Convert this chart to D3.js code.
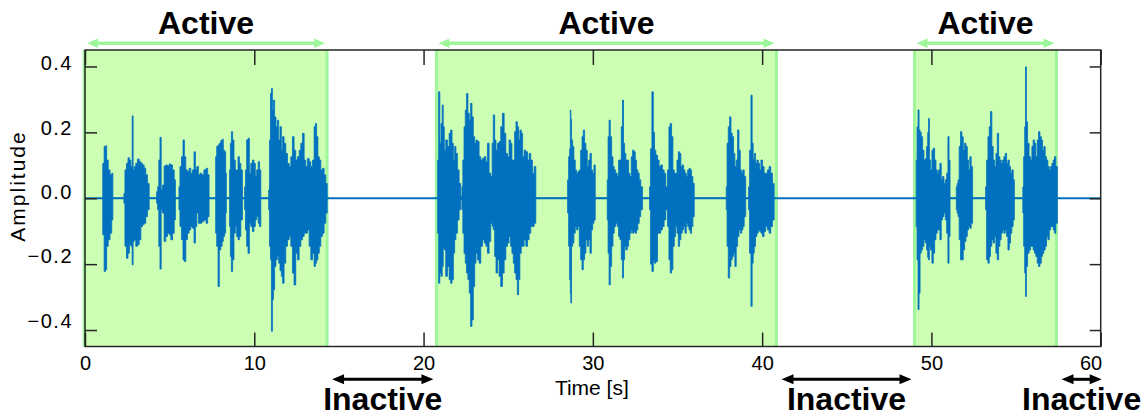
<!DOCTYPE html>
<html>
<head>
<meta charset="utf-8">
<script src="https://cdn.jsdelivr.net/npm/d3@7"></script>
<style>
body { margin: 0; background: #fff; }
svg { display: block; font-family: "Liberation Sans", Arial, sans-serif; }
</style>
</head>
<body>
<script>
//axis ticks
var xTicks = [0, 10, 20, 30, 40, 50, 60];
var yTicks = [-0.4, -0.2, 0.0, 0.2, 0.4];

//active / inactive segments in seconds
var activeStart = [-0.05, 20.76, 49.0];
var activeEnd = [14.3, 40.85, 57.39];
var inactiveStart = [14.3, 40.85, 57.39];
var inactiveEnd = [20.76, 49.0, 60];

//waveform envelope: [time, upper, lower]
var waveA = [
	[1.02,0,0],[1.08,0.106,-0.111],[1.18,0.157,-0.222],[1.24,0.159,-0.217],[1.32,0.116,-0.146],[1.42,0.086,-0.126],[1.54,0.071,-0.106],[1.62,0.076,-0.066],[1.67,0,0],
	[2.28,0,0],[2.32,0.015,-0.015],[2.40,0.086,-0.146],[2.50,0.106,-0.182],[2.58,0.123,-0.167],[2.66,0.116,-0.141],[2.76,0.096,-0.146],[2.815,0.250,-0.202],[2.87,0.086,-0.131],[2.95,0.096,-0.126],[3.05,0.106,-0.146],[3.15,0.119,-0.141],[3.25,0.111,-0.126],[3.35,0.106,-0.086],[3.45,0.101,-0.080],[3.54,0.091,-0.076],[3.64,0.071,-0.056],[3.74,0.045,-0.035],[3.84,0,0],
	[4.21,0,0],[4.25,0.020,-0.015],[4.33,0.035,-0.035],[4.39,0.116,-0.146],[4.47,0.185,-0.215],[4.53,0.025,-0.035],[4.63,0.040,-0.045],[4.72,0.098,-0.131],[4.82,0.101,-0.116],[4.92,0.098,-0.106],[5.02,0.104,-0.111],[5.12,0.101,-0.126],[5.22,0.086,-0.106],[5.32,0.056,-0.066],[5.36,0,0],
	[5.53,0,0],[5.57,0.035,-0.035],[5.65,0.096,-0.086],[5.75,0.126,-0.126],[5.83,0.177,-0.187],[5.91,0.126,-0.192],[6.00,0.086,-0.126],[6.10,0.081,-0.106],[6.20,0.091,-0.096],[6.30,0.076,-0.086],[6.40,0.086,-0.091],[6.48,0.141,-0.136],[6.56,0.086,-0.086],[6.65,0.096,-0.045],[6.75,0.071,-0.076],[6.85,0.076,-0.076],[6.95,0.071,-0.071],[7.09,0.086,-0.066],[7.21,0.091,-0.076],[7.28,0.071,-0.056],[7.38,0,0],
	[7.70,0,0],[7.74,0.126,-0.106],[7.82,0.157,-0.146],[7.90,0.162,-0.268],[7.97,0.167,-0.157],[8.07,0.175,-0.146],[8.13,0.179,-0.131],[8.21,0.146,-0.116],[8.29,0.141,-0.106],[8.33,0.076,-0.045],[8.37,0,0],
	[8.52,0,0],[8.56,0.086,-0.086],[8.62,0.167,-0.177],[8.68,0.202,-0.222],[8.76,0.177,-0.187],[8.84,0.116,-0.106],[8.92,0.086,-0.086],[9.00,0.086,-0.116],[9.08,0.126,-0.126],[9.16,0.106,-0.116],[9.25,0.086,-0.066],[9.35,0,0],
	[9.41,0,0],[9.45,0.035,-0.035],[9.51,0.086,-0.096],[9.59,0.177,-0.146],[9.67,0.182,-0.167],[9.75,0.076,-0.076],[9.84,0.106,-0.086],[9.94,0.116,-0.101],[10.02,0.106,-0.086],[10.10,0.066,-0.066],[10.18,0.086,-0.056],[10.28,0.111,-0.076],[10.34,0.086,-0.086],[10.43,0,0],
	[10.83,0,0],[10.87,0.025,-0.035],[10.93,0.177,-0.146],[10.99,0.318,-0.187],[11.04,0.333,-0.404],[11.10,0.268,-0.308],[11.16,0.298,-0.278],[11.24,0.247,-0.207],[11.32,0.217,-0.187],[11.40,0.237,-0.177],[11.48,0.177,-0.197],[11.56,0.217,-0.220],[11.64,0.146,-0.237],[11.71,0.187,-0.258],[11.81,0.167,-0.197],[11.91,0.136,-0.146],[12.01,0.106,-0.126],[12.11,0.096,-0.116],[12.21,0.126,-0.146],[12.30,0.187,-0.227],[12.40,0.146,-0.263],[12.50,0.116,-0.167],[12.60,0.126,-0.187],[12.70,0.146,-0.146],[12.80,0.167,-0.126],[12.90,0.197,-0.116],[12.99,0.116,-0.106],[13.09,0.096,-0.106],[13.19,0.121,-0.096],[13.29,0.111,-0.146],[13.39,0.096,-0.187],[13.49,0.116,-0.167],[13.58,0.217,-0.207],[13.64,0.227,-0.197],[13.72,0.187,-0.187],[13.80,0.126,-0.167],[13.88,0.116,-0.146],[13.98,0.086,-0.116],[14.08,0.091,-0.106],[14.17,0.071,-0.076],[14.27,0.045,-0.045],[14.35,0,0]
];
var waveB = [
	[20.81,0,0],[20.85,0.116,-0.106],[20.93,0.323,-0.258],[20.99,0.167,-0.227],[21.07,0.227,-0.237],[21.13,0.283,-0.207],[21.19,0.217,-0.150],[21.26,0.146,-0.157],[21.36,0.177,-0.237],[21.46,0.157,-0.207],[21.56,0.197,-0.247],[21.64,0.207,-0.258],[21.72,0.167,-0.247],[21.80,0.116,-0.167],[21.87,0.157,-0.126],[21.95,0.136,-0.106],[22.05,0.086,-0.066],[22.15,0.045,-0.035],[22.25,0.005,-0.005],
	[22.29,0.035,-0.035],[22.35,0.116,-0.106],[22.43,0.217,-0.167],[22.50,0.268,-0.197],[22.58,0.318,-0.227],[22.66,0.258,-0.247],[22.74,0.237,-0.288],[22.82,0.288,-0.389],[22.90,0.247,-0.369],[22.98,0.187,-0.268],[23.06,0.167,-0.197],[23.13,0.177,-0.167],[23.23,0.172,-0.187],[23.33,0.126,-0.197],[23.43,0.116,-0.146],[23.53,0.121,-0.126],[23.63,0.126,-0.136],[23.73,0.111,-0.146],[23.82,0.167,-0.167],[23.92,0.076,-0.131],[24.02,0.066,-0.076],[24.08,0.167,-0.085],[24.16,0.253,-0.096],[24.24,0.177,-0.177],[24.32,0.146,-0.227],[24.41,0.167,-0.187],[24.51,0.172,-0.237],[24.61,0.217,-0.268],[24.71,0.258,-0.227],[24.81,0.197,-0.187],[24.91,0.136,-0.146],[25.00,0.126,-0.136],[25.10,0.177,-0.116],[25.18,0.167,-0.146],[25.26,0.116,-0.167],[25.34,0.116,-0.197],[25.42,0.202,-0.227],[25.50,0.232,-0.247],[25.58,0.217,-0.293],[25.65,0.177,-0.247],[25.73,0.207,-0.167],[25.81,0.197,-0.146],[25.89,0.126,-0.146],[25.99,0.146,-0.126],[26.09,0.141,-0.146],[26.19,0.116,-0.126],[26.28,0.136,-0.106],[26.38,0.116,-0.086],[26.48,0.076,-0.086],[26.58,0.096,-0.076],[26.68,0,0],
	[28.49,0,0],[28.53,0.056,-0.045],[28.61,0.126,-0.146],[28.65,0.150,-0.247],[28.69,0.268,-0.290],[28.71,0.240,-0.318],[28.77,0.177,-0.146],[28.84,0.157,-0.136],[28.92,0.116,-0.106],[29.00,0.086,-0.086],[29.08,0.076,-0.096],[29.16,0.081,-0.086],[29.24,0.086,-0.146],[29.32,0.146,-0.187],[29.40,0.187,-0.217],[29.47,0.207,-0.187],[29.55,0.167,-0.167],[29.63,0.146,-0.126],[29.71,0.096,-0.146],[29.79,0.116,-0.126],[29.87,0.136,-0.167],[29.95,0.086,-0.096],[30.03,0.076,-0.076],[30.10,0.101,-0.066],[30.18,0,0],
	[30.83,0,0],[30.87,0.056,-0.066],[30.93,0.187,-0.167],[30.99,0.237,-0.263],[31.07,0.187,-0.207],[31.15,0.126,-0.146],[31.23,0.096,-0.106],[31.30,0.086,-0.086],[31.40,0.076,-0.076],[31.48,0.066,-0.086],[31.56,0.116,-0.116],[31.64,0.116,-0.126],[31.72,0.217,-0.187],[31.78,0.298,-0.242],[31.84,0.167,-0.187],[31.91,0.136,-0.146],[31.99,0.116,-0.157],[32.07,0.116,-0.146],[32.15,0.076,-0.126],[32.23,0.066,-0.106],[32.31,0.126,-0.096],[32.39,0.146,-0.106],[32.47,0.141,-0.101],[32.54,0.116,-0.106],[32.62,0.086,-0.096],[32.70,0.076,-0.076],[32.78,0.056,-0.056],[32.88,0.035,-0.035],[32.98,0,0],
	[33.33,0,0],[33.37,0.035,-0.035],[33.45,0.150,-0.200],[33.53,0.323,-0.222],[33.61,0.200,-0.190],[33.67,0.146,-0.197],[33.77,0.131,-0.192],[33.87,0.116,-0.106],[33.96,0.096,-0.106],[34.06,0.101,-0.096],[34.16,0.086,-0.086],[34.26,0.076,-0.066],[34.36,0.035,-0.035],[34.46,0.086,-0.086],[34.53,0.217,-0.187],[34.61,0.227,-0.227],[34.69,0.187,-0.217],[34.77,0.086,-0.146],[34.85,0.076,-0.116],[34.93,0.076,-0.086],[35.01,0.116,-0.106],[35.09,0.141,-0.146],[35.16,0.136,-0.126],[35.24,0.096,-0.106],[35.32,0.101,-0.096],[35.40,0.086,-0.086],[35.48,0.076,-0.106],[35.56,0.066,-0.076],[35.64,0.086,-0.086],[35.72,0.091,-0.096],[35.79,0.086,-0.106],[35.87,0.066,-0.086],[35.95,0.045,-0.056],[36.03,0,0],
	[37.86,0,0],[37.90,0.035,-0.035],[37.96,0.167,-0.146],[38.04,0.217,-0.242],[38.12,0.247,-0.207],[38.20,0.197,-0.187],[38.27,0.187,-0.177],[38.35,0.136,-0.167],[38.43,0.096,-0.207],[38.51,0.116,-0.146],[38.59,0.207,-0.116],[38.67,0.146,-0.096],[38.75,0.086,-0.106],[38.83,0.076,-0.096],[38.90,0.086,-0.086],[38.98,0.066,-0.056],[39.08,0,0],
	[39.18,0,0],[39.22,0.035,-0.035],[39.30,0.146,-0.167],[39.38,0.313,-0.328],[39.44,0.167,-0.197],[39.50,0.116,-0.167],[39.57,0.136,-0.146],[39.65,0.106,-0.116],[39.73,0.116,-0.106],[39.81,0.106,-0.096],[39.89,0.086,-0.101],[39.97,0.116,-0.106],[40.07,0.096,-0.116],[40.16,0.076,-0.101],[40.26,0.076,-0.086],[40.36,0.086,-0.096],[40.46,0.096,-0.106],[40.56,0.076,-0.086],[40.66,0.045,-0.066],[40.76,0,0]
];
var waveC = [
	[49.08,0,0],[49.12,0.116,-0.086],[49.18,0.217,-0.187],[49.24,0.268,-0.338],[49.30,0.207,-0.288],[49.36,0.200,-0.167],[49.44,0.187,-0.157],[49.52,0.146,-0.146],[49.60,0.116,-0.126],[49.68,0.120,-0.136],[49.75,0.157,-0.157],[49.81,0.200,-0.180],[49.85,0.242,-0.187],[49.91,0.116,-0.146],[49.99,0.086,-0.157],[50.07,0.146,-0.197],[50.15,0.152,-0.167],[50.23,0.116,-0.126],[50.31,0.086,-0.106],[50.38,0.076,-0.096],[50.46,0.086,-0.096],[50.54,0.106,-0.126],[50.62,0.056,-0.066],[50.70,0.066,-0.056],[50.78,0.045,-0.045],[50.86,0.056,-0.066],[50.94,0.076,-0.106],[51.01,0.187,-0.197],[51.07,0.116,-0.116],[51.13,0,0],
	[51.45,0,0],[51.49,0.035,-0.035],[51.55,0.045,-0.045],[51.60,0.056,-0.056],[51.68,0.157,-0.126],[51.76,0.202,-0.187],[51.84,0.187,-0.187],[51.92,0.146,-0.157],[52.00,0.167,-0.131],[52.08,0.157,-0.116],[52.16,0.116,-0.096],[52.23,0.086,-0.086],[52.31,0.126,-0.091],[52.39,0.096,-0.076],[52.47,0,0],
	[53.18,0,0],[53.22,0.035,-0.035],[53.30,0.116,-0.187],[53.38,0.187,-0.197],[53.45,0.217,-0.177],[53.53,0.263,-0.146],[53.61,0.157,-0.126],[53.69,0.116,-0.136],[53.77,0.096,-0.116],[53.85,0.136,-0.167],[53.93,0.197,-0.187],[54.01,0.126,-0.146],[54.08,0.116,-0.126],[54.16,0.106,-0.106],[54.24,0.116,-0.096],[54.32,0.126,-0.106],[54.40,0.136,-0.096],[54.48,0.106,-0.116],[54.56,0.116,-0.157],[54.64,0.096,-0.136],[54.71,0.076,-0.106],[54.79,0.086,-0.086],[54.87,0.056,-0.066],[54.93,0,0],
	[55.38,0,0],[55.42,0.035,-0.045],[55.48,0.126,-0.146],[55.54,0.217,-0.227],[55.58,0.399,-0.298],[55.64,0.232,-0.207],[55.72,0.167,-0.167],[55.82,0.126,-0.157],[55.90,0.116,-0.146],[55.97,0.157,-0.146],[56.05,0.177,-0.157],[56.13,0.167,-0.167],[56.21,0.126,-0.177],[56.29,0.177,-0.197],[56.37,0.202,-0.207],[56.45,0.187,-0.197],[56.53,0.177,-0.177],[56.60,0.146,-0.167],[56.68,0.157,-0.157],[56.76,0.126,-0.146],[56.84,0.116,-0.116],[56.92,0.096,-0.126],[57.00,0.086,-0.096],[57.08,0.096,-0.086],[57.16,0.106,-0.086],[57.23,0.116,-0.096],[57.31,0.126,-0.106],[57.39,0.096,-0.076],[57.49,0,0]
];

window.onload = drawChart();

function drawChart(){

	var width = 1148,
		height = 419;

	var blue = "#0070bf",
		green = "#ccffb4",
		greenLine = "#9ef59a",
		frameColor = "#262626";

	var svg = d3.select("body")
		.append("svg")
		.attr("width", width)
		.attr("height", height);

	//scales
	var x = d3.scaleLinear()
		.domain([0, 60])
		.range([85, 1100.7]);
	var y = d3.scaleLinear()
		.domain([-0.45, 0.45])
		.range([346.5, 50]);

	//green shading for active parts
	svg.selectAll(".active")
		.data(activeStart)
		.enter()
		.append("rect")
		.attr("class", "active")
		.attr("x", function(d){ return x(d); })
		.attr("width", function(d, i){ return x(activeEnd[i]) - x(d); })
		.attr("y", y(0.45))
		.attr("height", y(-0.45) - y(0.45))
		.attr("fill", green);

	//bright edges of the shading
	var edges = activeStart.concat(activeEnd);
	svg.selectAll(".edge")
		.data(edges)
		.enter()
		.append("line")
		.attr("class", "edge")
		.attr("x1", function(d){ return x(d); })
		.attr("x2", function(d){ return x(d); })
		.attr("y1", y(0.45))
		.attr("y2", y(-0.45))
		.attr("stroke", greenLine)
		.attr("stroke-width", 3);

	//zero line of the signal
	svg.append("line")
		.attr("x1", x(0))
		.attr("x2", x(60))
		.attr("y1", y(0))
		.attr("y2", y(0))
		.attr("stroke", blue)
		.attr("stroke-width", 2);

	//waveform, drawn as a stepped envelope so the edges look spiky
	var area = d3.area()
		.curve(d3.curveStep)
		.x(function(d){ return x(d[0]); })
		.y0(function(d){ return y(d[2]); })
		.y1(function(d){ return y(d[1]); });

	svg.selectAll(".wave")
		.data([waveA, waveB, waveC])
		.enter()
		.append("path")
		.attr("class", "wave")
		.attr("d", area)
		.attr("fill", blue)
		.attr("stroke", blue)
		.attr("stroke-width", 0.8)
		.attr("stroke-linejoin", "miter");

	//axes, ticks point inward on all four sides
	var bottom = svg.append("g")
		.attr("transform", "translate(0," + y(-0.45) + ")")
		.call(d3.axisBottom(x).tickValues(xTicks).tickSize(-14).tickPadding(9)
			.tickFormat(d3.format("d")));
	bottom.selectAll(".tick text")
		.attr("font-size", "20px")
		.attr("fill", "#000")
		.attr("font-family", "Liberation Sans, Arial, sans-serif");
	bottom.selectAll(".tick text")
		.filter(function(d){ return d === 60; })
		.attr("text-anchor", "end")
		.attr("x", 1);

	var top = svg.append("g")
		.attr("transform", "translate(0," + y(0.45) + ")")
		.call(d3.axisTop(x).tickValues(xTicks).tickSize(-15).tickFormat(""));

	var left = svg.append("g")
		.attr("transform", "translate(" + x(0) + ",0)")
		.call(d3.axisLeft(y).tickValues(yTicks).tickSize(-12).tickPadding(12)
			.tickFormat(function(d){ return d3.format(".1f")(d).replace("-", "\u2212"); }));
	//labels sit a little above their ticks in the original
	left.selectAll(".tick text")
		.attr("font-size", "20px")
		.attr("fill", "#000")
		.attr("letter-spacing", "1.5px")
		.attr("font-family", "Liberation Sans, Arial, sans-serif")
		.attr("dy", function(d){ return (0.3 + 7.3 * d) + "px"; });

	var right = svg.append("g")
		.attr("transform", "translate(" + x(60) + ",0)")
		.call(d3.axisRight(y).tickValues(yTicks).tickSize(-11).tickFormat(""));

	[bottom, top, left, right].forEach(function(g){
		g.select(".domain").remove();
		g.selectAll(".tick line").attr("stroke", frameColor).attr("stroke-width", 1.5);
	});

	//frame
	svg.append("rect")
		.attr("x", x(0))
		.attr("y", y(0.45))
		.attr("width", x(60) - x(0))
		.attr("height", y(-0.45) - y(0.45))
		.attr("fill", "none")
		.attr("stroke", frameColor)
		.attr("stroke-width", 1.5);

	//axis titles
	svg.append("text")
		.attr("x", (x(0) + x(60)) / 2 - 1)
		.attr("y", 395)
		.attr("text-anchor", "middle")
		.attr("font-size", "21px")
		.text("Time [s]");

	svg.append("text")
		.attr("transform", "translate(25,186) rotate(-90)")
		.attr("text-anchor", "middle")
		.attr("font-size", "21px")
		.attr("letter-spacing", "2px")
		.text("Amplitude");

	//double headed arrow helper
	function arrow(x1, x2, yy, color, shaft, headLen, headHalf){
		var g = svg.append("g");
		g.append("line")
			.attr("x1", x1 + headLen - 1)
			.attr("x2", x2 - headLen + 1)
			.attr("y1", yy)
			.attr("y2", yy)
			.attr("stroke", color)
			.attr("stroke-width", shaft);
		g.append("path")
			.attr("d", "M" + x1 + "," + yy + "L" + (x1 + headLen) + "," + (yy - headHalf) + "L" + (x1 + headLen) + "," + (yy + headHalf) + "Z")
			.attr("fill", color);
		g.append("path")
			.attr("d", "M" + x2 + "," + yy + "L" + (x2 - headLen) + "," + (yy - headHalf) + "L" + (x2 - headLen) + "," + (yy + headHalf) + "Z")
			.attr("fill", color);
	}

	//"Active" labels above the plot
	activeStart.forEach(function(s, i){
		var x1 = Math.max(x(s), x(0)) + 2,
			x2 = x(activeEnd[i]) - 2;
		arrow(x1, x2, 43.3, greenLine, 3.5, 11, 4.8);
		svg.append("text")
			.attr("x", (x1 + x2) / 2)
			.attr("y", 34)
			.attr("text-anchor", "middle")
			.attr("font-size", "32px")
			.attr("font-weight", "bold")
			.text("Active");
	});

	//"Inactive" labels under the plot
	inactiveStart.forEach(function(s, i){
		var x1 = x(s) + 5,
			x2 = Math.min(x(inactiveEnd[i]) - 3, x(60));
		if (inactiveEnd[i] === 60) x2 = x(60) + 1;
		arrow(x1, x2, 379.3, "#000", 3, 12, 5);
		svg.append("text")
			.attr("x", (x1 + x2) / 2)
			.attr("y", 410)
			.attr("text-anchor", "middle")
			.attr("font-size", "32px")
			.attr("font-weight", "bold")
			.text("Inactive");
	});
};
</script>
</body>
</html>
